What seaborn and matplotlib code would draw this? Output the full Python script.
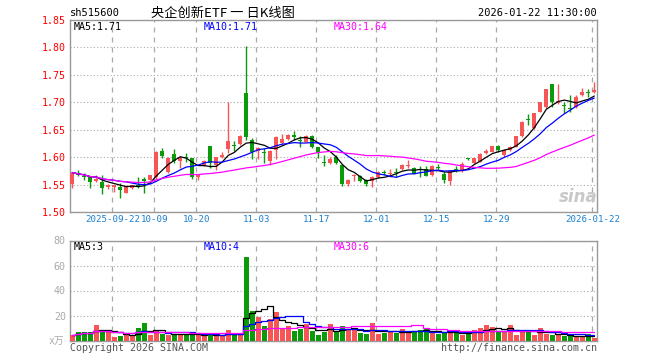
import numpy as np
import pandas as pd
import matplotlib
matplotlib.use('Agg')
import matplotlib.pyplot as plt
import seaborn as sns

# ---- data (daily K line, sh515600) ----
holidays = ['2025-10-01', '2025-10-02', '2025-10-03', '2025-10-06', '2025-10-07',
            '2025-10-08', '2026-01-01', '2026-01-02']
days = pd.bdate_range('2025-09-11', '2026-01-22')
days = days[~days.isin(pd.to_datetime(holidays))]

opens = [1.551, 1.572, 1.565, 1.564, 1.557, 1.554, 1.545, 1.545, 1.545, 1.535,
         1.544, 1.549, 1.561, 1.559, 1.564, 1.611, 1.573, 1.605, 1.593, 1.600,
         1.598, 1.563, 1.586, 1.620, 1.586, 1.600, 1.614, 1.621, 1.624, 1.717,
         1.631, 1.611, 1.609, 1.593, 1.613, 1.626, 1.633, 1.640, 1.632, 1.628,
         1.638, 1.618, 1.591, 1.589, 1.601, 1.586, 1.551, 1.565, 1.565, 1.558,
         1.556, 1.563, 1.573, 1.569, 1.572, 1.578, 1.583, 1.581, 1.578, 1.578,
         1.567, 1.582, 1.570, 1.557, 1.578, 1.574, 1.597, 1.589, 1.592, 1.607,
         1.610, 1.620, 1.604, 1.613, 1.619, 1.638, 1.669, 1.653, 1.683, 1.691,
         1.733, 1.699, 1.695, 1.690, 1.692, 1.713, 1.718, 1.719]
highs = [1.573, 1.577, 1.572, 1.564, 1.567, 1.568, 1.551, 1.550, 1.552, 1.550,
         1.550, 1.564, 1.564, 1.568, 1.611, 1.617, 1.601, 1.615, 1.602, 1.607,
         1.599, 1.570, 1.594, 1.620, 1.601, 1.610, 1.701, 1.630, 1.640, 1.802,
         1.634, 1.619, 1.616, 1.613, 1.639, 1.642, 1.642, 1.648, 1.638, 1.640,
         1.640, 1.619, 1.604, 1.600, 1.604, 1.588, 1.560, 1.570, 1.567, 1.560,
         1.565, 1.574, 1.577, 1.578, 1.580, 1.587, 1.595, 1.582, 1.583, 1.583,
         1.586, 1.588, 1.573, 1.577, 1.584, 1.592, 1.599, 1.599, 1.607, 1.614,
         1.621, 1.623, 1.614, 1.620, 1.639, 1.665, 1.679, 1.681, 1.701, 1.725,
         1.734, 1.733, 1.701, 1.713, 1.714, 1.726, 1.724, 1.737]
lows = [1.543, 1.566, 1.558, 1.543, 1.555, 1.532, 1.542, 1.537, 1.525, 1.535,
        1.542, 1.544, 1.534, 1.558, 1.561, 1.598, 1.571, 1.589, 1.580, 1.592,
        1.561, 1.558, 1.583, 1.580, 1.577, 1.598, 1.607, 1.612, 1.622, 1.631,
        1.596, 1.596, 1.589, 1.585, 1.597, 1.624, 1.631, 1.631, 1.618, 1.627,
        1.616, 1.598, 1.583, 1.588, 1.588, 1.547, 1.547, 1.557, 1.555, 1.548,
        1.546, 1.562, 1.568, 1.564, 1.564, 1.577, 1.580, 1.569, 1.563, 1.565,
        1.566, 1.577, 1.552, 1.550, 1.573, 1.573, 1.594, 1.588, 1.591, 1.606,
        1.609, 1.609, 1.601, 1.612, 1.618, 1.637, 1.659, 1.652, 1.682, 1.689,
        1.692, 1.697, 1.681, 1.683, 1.690, 1.712, 1.710, 1.717]
closes = [1.572, 1.567, 1.564, 1.555, 1.561, 1.544, 1.550, 1.549, 1.541, 1.547,
          1.549, 1.546, 1.556, 1.567, 1.610, 1.602, 1.599, 1.593, 1.599, 1.598,
          1.564, 1.569, 1.593, 1.590, 1.600, 1.604, 1.629, 1.620, 1.638, 1.637,
          1.610, 1.616, 1.607, 1.611, 1.636, 1.633, 1.640, 1.637, 1.630, 1.638,
          1.618, 1.607, 1.590, 1.597, 1.589, 1.551, 1.558, 1.566, 1.557, 1.551,
          1.563, 1.573, 1.572, 1.570, 1.571, 1.586, 1.584, 1.570, 1.577, 1.566,
          1.583, 1.581, 1.558, 1.575, 1.577, 1.587, 1.596, 1.598, 1.606, 1.612,
          1.620, 1.613, 1.613, 1.619, 1.638, 1.664, 1.668, 1.680, 1.700, 1.724,
          1.701, 1.702, 1.693, 1.688, 1.710, 1.719, 1.717, 1.723]
# volume in 万
volume = [4.2, 6.9, 6.9, 6.9, 12.2, 7.4, 7.4, 2.9, 3.7, 4.8,
          4.8, 10.0, 13.8, 4.2, 7.4, 5.6, 4.2, 5.6, 4.2, 5.6,
          4.8, 5.6, 3.7, 5.6, 4.2, 4.2, 8.2, 4.2, 6.1, 67.0,
          23.8, 18.5, 11.9, 17.5, 22.5, 10.0, 11.9, 7.4, 9.5, 13.5,
          7.9, 4.8, 6.6, 13.5, 6.6, 11.4, 8.2, 9.5, 6.1, 5.0,
          14.0, 5.0, 6.1, 6.9, 6.1, 9.3, 6.9, 6.9, 8.2, 9.0,
          6.9, 5.6, 6.1, 8.2, 6.9, 4.2, 5.6, 8.2, 10.0, 12.2,
          10.8, 6.9, 6.9, 12.2, 4.2, 7.4, 8.7, 4.2, 10.0, 5.0,
          4.2, 4.5, 3.4, 3.4, 3.6, 3.6, 5.0, 2.4]

tick_dates = ['2025-09-22', '2025-10-09', '2025-10-20', '2025-11-03', '2025-11-17',
              '2025-12-01', '2025-12-15', '2025-12-29', '2026-01-22']
tick_labels = ['2025-09-22', '10-09', '10-20', '11-03', '11-17',
               '12-01', '12-15', '12-29', '2026-01-22']
price_ticks = [1.50, 1.55, 1.60, 1.65, 1.70, 1.75, 1.80, 1.85]
vol_ticks = [20, 40, 60, 80]
ma_text = ['MA5:1.71', 'MA10:1.71', 'MA30:1.64']
vma_text = ['MA5:3', 'MA10:4', 'MA30:6']

df = pd.DataFrame({'open': opens, 'high': highs, 'low': lows,
                   'close': closes, 'vol': volume})
df['x'] = np.arange(len(df))
for w in (5, 10, 30):
    df['ma%d' % w] = df['close'].rolling(w, min_periods=1).mean()
    df['vma%d' % w] = df['vol'].rolling(w, min_periods=1).mean()

RED, GREEN = '#f65656', '#0a9a0a'
cols = np.where(df['close'] >= df['open'], RED, GREEN)
ma_cols = ['black', '#0000ff', '#ff00ff']
grid_c = '#aaaaaa'

sns.set_theme(style='white')
plt.rcParams['font.family'] = ['DejaVu Sans Mono', 'Noto Sans CJK SC']

W, H = 660, 360
fig = plt.figure(figsize=(6.6, 3.6), dpi=100)
ax = fig.add_axes([70 / W, 1 - 212 / H, 527 / W, 192 / H])
axv = fig.add_axes([70 / W, 1 - 340.5 / H, 527 / W, 100 / H])

tick_idx = [list(days.strftime('%Y-%m-%d')).index(d) - 0.3 for d in tick_dates]

# ---- price panel ----
ax.vlines(df['x'], df['low'], df['high'], colors=cols, lw=1, zorder=3)
body = np.maximum((df['close'] - df['open']).abs(), 0.0018)
ax.bar(df['x'], body, bottom=np.minimum(df['open'], df['close']),
       width=0.68, color=cols, linewidth=0, zorder=3)
for w, c in zip((5, 10, 30), ma_cols):
    sns.lineplot(x=df['x'], y=df['ma%d' % w], ax=ax, color=c, lw=0.9, zorder=4)

ax.set_xlim(-0.38, 87.45)
ax.set_ylim(1.50, 1.85)
ax.set_yticks(price_ticks)
ax.set_yticklabels(['%.2f' % p for p in price_ticks], color='#ff0000', fontsize=7.2)
ax.set_xticks(tick_idx)
ax.set_xticklabels(tick_labels, color='#1a80d0', fontsize=6.6)
ax.tick_params(length=0, pad=3)
ax.tick_params(axis='x', pad=2)
ax.yaxis.grid(True, ls=(0, (1, 2)), color=grid_c, lw=0.8)
for t in tick_idx:
    ax.axvline(t, color=grid_c, ls=(0, (4, 4)), lw=0.9, zorder=1)
ax.set_xlabel('')
ax.set_ylabel('')

# ---- volume panel ----
axv.bar(df['x'], df['vol'], width=0.82, color=cols, linewidth=0, zorder=3)
for w, c in zip((5, 10, 30), ma_cols):
    sns.lineplot(x=df['x'], y=df['vma%d' % w], ax=axv, color=c, lw=0.9,
                 drawstyle='steps-mid', zorder=4)
axv.set_xlim(-0.38, 87.45)
axv.set_ylim(0, 80)
axv.set_yticks(vol_ticks)
axv.set_yticklabels([str(v) for v in vol_ticks], color=grid_c, fontsize=7.2)
axv.set_xticks([])
axv.tick_params(length=0, pad=3)
axv.yaxis.grid(True, ls=(0, (1, 2)), color=grid_c, lw=0.8)
for t in tick_idx:
    axv.axvline(t, color=grid_c, ls=(0, (4, 4)), lw=0.9, zorder=1)
axv.set_xlabel('')
axv.set_ylabel('')

for a in (ax, axv):
    for s in a.spines.values():
        s.set_color('#999999')
        s.set_linewidth(1)

# ---- texts ----
def ftext(px, py, s, **kw):
    fig.text(px / W, 1 - py / H, s, va='center', **kw)

ftext(70, 13, 'sh515600', ha='left', fontsize=7.5, color='black')
ftext(223, 13, '央企创新ETF 一 日K线图', ha='center', fontsize=9.5, color='black',
      family=['Noto Sans CJK SC', 'DejaVu Sans'])
ftext(597, 13, '2026-01-22 11:30:00', ha='right', fontsize=7.5, color='black')
for px, s, c in zip((74, 204, 334), ma_text, ma_cols):
    ftext(px, 27, s, ha='left', fontsize=7.2, color=c)
for px, s, c in zip((74, 204, 334), vma_text, ma_cols):
    ftext(px, 246.5, s, ha='left', fontsize=7.2, color=c)
ftext(64, 341, 'x万', ha='right', fontsize=7, color=grid_c)
ftext(70, 348, 'Copyright 2026 SINA.COM', ha='left', fontsize=7.2, color='#555555')
ftext(597, 348, 'http://finance.sina.com.cn', ha='right', fontsize=7.2, color='#555555')
ftext(578, 197, 'sina', ha='center', fontsize=12, color='#c8c8c8',
      style='italic', weight='bold', family='DejaVu Sans')

fig.savefig('out.png', dpi=100, facecolor='white')
